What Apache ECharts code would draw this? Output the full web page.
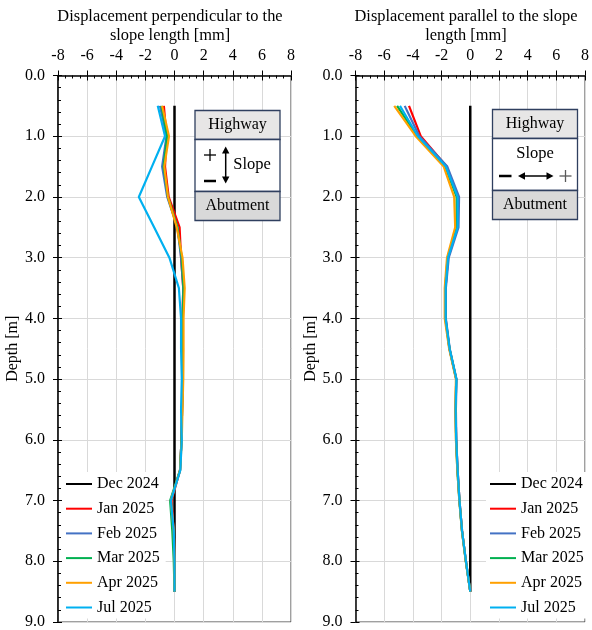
<!DOCTYPE html>
<html>
<head>
<meta charset="utf-8">
<script src="https://cdn.jsdelivr.net/npm/echarts@6/dist/echarts.min.js"></script>
<style>
  html, body { margin: 0; padding: 0; background: #fff; }
  #chart { width: 592px; height: 630px; }
</style>
</head>
<body>
<div id="chart"></div>
<script>
// depth of each reading [m]
var depths = [0.5, 1.0, 1.5, 2.0, 2.5, 3.0, 3.5, 4.0, 4.5, 5.0, 5.5, 6.0, 6.5, 7.0, 7.5, 8.0, 8.5];
var seriesNames = ['Dec 2024', 'Jan 2025', 'Feb 2025', 'Mar 2025', 'Apr 2025', 'Jul 2025'];
var seriesColors = ['#000000', '#ff0000', '#4472c4', '#00b050', '#ffa000', '#00b0f0'];
var xTicks = [-8, -6, -4, -2, 0, 2, 4, 6, 8];
var yTicks = [0, 1, 2, 3, 4, 5, 6, 7, 8, 9];

// displacement perpendicular to the slope length [mm]
var perpDec = [0, 0, 0, 0, 0, 0, 0, 0, 0, 0, 0, 0, 0, 0, 0, 0, 0];
var perpJan = [-0.73, -0.55, -0.65, -0.4, 0.35, 0.45, 0.6, 0.55, 0.55, 0.58, 0.52, 0.48, 0.38, -0.2, -0.05, 0, 0];
var perpFeb = [-1.0, -0.55, -0.85, -0.5, 0.2, 0.45, 0.6, 0.55, 0.55, 0.55, 0.52, 0.48, 0.38, -0.25, -0.08, 0, 0];
var perpMar = [-0.9, -0.5, -0.75, -0.45, 0.2, 0.5, 0.62, 0.57, 0.58, 0.58, 0.52, 0.48, 0.38, -0.3, -0.15, -0.05, 0];
var perpApr = [-0.85, -0.38, -0.7, -0.45, 0.15, 0.55, 0.7, 0.62, 0.62, 0.6, 0.55, 0.5, 0.38, -0.25, -0.05, 0, 0];
var perpJul = [-1.15, -0.65, -1.55, -2.45, -1.4, -0.35, 0.3, 0.45, 0.45, 0.5, 0.45, 0.5, 0.4, -0.25, -0.05, 0, 0];

// displacement parallel to the slope length [mm]
var paraDec = [0, 0, 0, 0, 0, 0, 0, 0, 0, 0, 0, 0, 0, 0, 0, 0, 0];
var paraJan = [-4.27, -3.45, -1.65, -0.85, -0.9, -1.55, -1.72, -1.72, -1.45, -0.98, -1.02, -0.98, -0.88, -0.75, -0.57, -0.3, 0];
var paraFeb = [-4.57, -3.55, -1.6, -0.78, -0.82, -1.5, -1.7, -1.7, -1.43, -0.96, -1.0, -0.97, -0.88, -0.75, -0.57, -0.3, 0];
var paraMar = [-5.1, -3.7, -1.75, -0.95, -0.95, -1.58, -1.75, -1.74, -1.45, -0.98, -1.02, -0.99, -0.9, -0.76, -0.58, -0.31, 0];
var paraApr = [-5.3, -3.8, -1.85, -1.12, -1.05, -1.62, -1.78, -1.78, -1.47, -1.0, -1.04, -1.0, -0.9, -0.76, -0.58, -0.31, 0];
var paraJul = [-4.9, -3.65, -1.7, -0.88, -0.88, -1.55, -1.72, -1.72, -1.44, -0.97, -1.02, -0.98, -0.88, -0.75, -0.57, -0.3, 0];

var perpData = [perpDec, perpJan, perpFeb, perpMar, perpApr, perpJul];
var paraData = [paraDec, paraJan, paraFeb, paraMar, paraApr, paraJul];

var FONT = 'Liberation Serif';
var BORDER = '#2f3f5f';

function pairs(values) {
  return values.map(function (v, i) { return [v, depths[i]]; });
}

function xAxes(grid) {
  var base = {
    gridIndex: grid, type: 'value', position: 'top',
    min: xTicks[0], max: xTicks[xTicks.length - 1], interval: 2
  };
  return [
    Object.assign({}, base, {
      axisLine: { show: true, onZero: false, lineStyle: { color: '#000', width: 1.5 } },
      axisTick: { show: true, length: 5, lineStyle: { color: '#000' } },
      axisLabel: { margin: 12, color: '#000', fontFamily: FONT, fontSize: 16 },
      splitLine: { show: true, lineStyle: { color: '#d9d9d9', width: 1 } }
    }),
    // second copy only for the inner ticks and minor ticks
    Object.assign({}, base, {
      axisLine: { show: false, onZero: false },
      axisTick: { show: true, inside: true, length: 5, lineStyle: { color: '#000' } },
      minorTick: { show: true, splitNumber: 4, length: 3, lineStyle: { color: '#000' } },
      axisLabel: { show: false },
      splitLine: { show: false }
    })
  ];
}

function yAxes(grid) {
  var base = {
    gridIndex: grid, type: 'value', position: 'left', inverse: true,
    min: yTicks[0], max: yTicks[yTicks.length - 1], interval: 1
  };
  return [
    Object.assign({}, base, {
      name: 'Depth [m]', nameLocation: 'middle', nameGap: 36,
      nameTextStyle: { color: '#000', fontFamily: FONT, fontSize: 16 },
      axisLine: { show: true, onZero: false, lineStyle: { color: '#000', width: 1.5 } },
      axisTick: { show: true, length: 5, lineStyle: { color: '#000' } },
      axisLabel: {
        margin: 13, color: '#000', fontFamily: FONT, fontSize: 16,
        formatter: function (v) { return v.toFixed(1); }
      },
      splitLine: { show: true, lineStyle: { color: '#d9d9d9', width: 1 } }
    }),
    Object.assign({}, base, {
      axisLine: { show: false, onZero: false },
      axisTick: { show: true, inside: true, length: 4, lineStyle: { color: '#000' } },
      minorTick: { show: true, splitNumber: 5, length: 3, lineStyle: { color: '#000' } },
      axisLabel: { show: false },
      splitLine: { show: false }
    })
  ];
}

function makeSeries(data, grid) {
  return data.map(function (vals, i) {
    return {
      name: seriesNames[i],
      type: 'line',
      xAxisIndex: grid * 2,
      yAxisIndex: grid * 2,
      data: pairs(vals),
      symbol: 'none',
      color: seriesColors[i],
      lineStyle: { width: i === 0 ? 2.5 : 2.2, color: seriesColors[i] },
      z: 3 + i
    };
  });
}

function legend(left) {
  return {
    orient: 'vertical', left: left, top: 472,
    backgroundColor: '#fff', padding: [4, 6, 3, 4],
    itemWidth: 26, itemHeight: 14, itemGap: 8.7,
    icon: 'path://M0,6 L26,6 L26,8 L0,8 Z',
    textStyle: { color: '#000', fontFamily: FONT, fontSize: 16 },
    data: seriesNames
  };
}

// inset box: Highway / Slope / Abutment
function inset(x0, y0, w, horizontal) {
  var els = [];
  var h1 = 29, h2 = 52, h3 = 29;
  var cx = x0 + w / 2;
  els.push({ type: 'rect', shape: { x: x0, y: y0, width: w, height: h1 }, style: { fill: '#e7e6e6', stroke: BORDER, lineWidth: 1.3 }, z: 20 });
  els.push({ type: 'rect', shape: { x: x0, y: y0 + h1, width: w, height: h2 }, style: { fill: '#fff', stroke: BORDER, lineWidth: 1.3 }, z: 20 });
  els.push({ type: 'rect', shape: { x: x0, y: y0 + h1 + h2, width: w, height: h3 }, style: { fill: '#d9d9d9', stroke: BORDER, lineWidth: 1.3 }, z: 20 });
  var ts = { fill: '#000', font: '16px "' + FONT + '"', align: 'center', verticalAlign: 'middle' };
  var slope = Object.assign({}, ts, { font: '16.5px "' + FONT + '"' });
  els.push({ type: 'text', x: cx, y: y0 + h1 / 2, style: Object.assign({ text: 'Highway' }, ts), z: 21 });
  els.push({ type: 'text', x: cx, y: y0 + h1 + h2 + h3 / 2, style: Object.assign({ text: 'Abutment' }, ts), z: 21 });
  if (!horizontal) {
    var ax = x0 + 30.7;
    els.push({ type: 'text', x: x0 + 57, y: y0 + 54, style: Object.assign({ text: 'Slope' }, slope), z: 21 });
    // plus / minus
    els.push({ type: 'line', shape: { x1: x0 + 9, y1: y0 + 44.5, x2: x0 + 21, y2: y0 + 44.5 }, style: { stroke: '#000', lineWidth: 1.3 }, z: 21 });
    els.push({ type: 'line', shape: { x1: x0 + 15, y1: y0 + 38.5, x2: x0 + 15, y2: y0 + 50.5 }, style: { stroke: '#000', lineWidth: 1.3 }, z: 21 });
    els.push({ type: 'line', shape: { x1: x0 + 9, y1: y0 + 70.5, x2: x0 + 21, y2: y0 + 70.5 }, style: { stroke: '#000', lineWidth: 2.5 }, z: 21 });
    // double arrow
    els.push({ type: 'line', shape: { x1: ax, y1: y0 + 41, x2: ax, y2: y0 + 68 }, style: { stroke: '#000', lineWidth: 1.5 }, z: 21 });
    els.push({ type: 'polygon', shape: { points: [[ax, y0 + 36], [ax - 3.7, y0 + 43], [ax + 3.7, y0 + 43]] }, style: { fill: '#000' }, z: 21 });
    els.push({ type: 'polygon', shape: { points: [[ax, y0 + 73], [ax - 3.7, y0 + 66], [ax + 3.7, y0 + 66]] }, style: { fill: '#000' }, z: 21 });
  } else {
    var ay = y0 + 66.5;
    els.push({ type: 'text', x: cx, y: y0 + 44, style: Object.assign({ text: 'Slope' }, slope), z: 21 });
    els.push({ type: 'line', shape: { x1: x0 + 6.5, y1: ay, x2: x0 + 19, y2: ay }, style: { stroke: '#000', lineWidth: 2.5 }, z: 21 });
    els.push({ type: 'line', shape: { x1: x0 + 31, y1: ay, x2: x0 + 56, y2: ay }, style: { stroke: '#000', lineWidth: 1.5 }, z: 21 });
    els.push({ type: 'polygon', shape: { points: [[x0 + 25.5, ay], [x0 + 32.5, ay - 3.7], [x0 + 32.5, ay + 3.7]] }, style: { fill: '#000' }, z: 21 });
    els.push({ type: 'polygon', shape: { points: [[x0 + 61, ay], [x0 + 54, ay - 3.7], [x0 + 54, ay + 3.7]] }, style: { fill: '#000' }, z: 21 });
    els.push({ type: 'line', shape: { x1: x0 + 67, y1: ay, x2: x0 + 79, y2: ay }, style: { stroke: '#595959', lineWidth: 1.3 }, z: 21 });
    els.push({ type: 'line', shape: { x1: x0 + 73, y1: ay - 6, x2: x0 + 73, y2: ay + 6 }, style: { stroke: '#595959', lineWidth: 1.3 }, z: 21 });
  }
  return els;
}

var chart = echarts.init(document.getElementById('chart'));
var titleStyle = { color: '#000', fontFamily: FONT, fontSize: 16.4, fontWeight: 'normal', lineHeight: 19 };

chart.setOption({
  animation: false,
  backgroundColor: '#fff',
  title: [
    { text: 'Displacement perpendicular to the\nslope length [mm]', left: 170, top: 7, textAlign: 'center', padding: 0, textStyle: titleStyle },
    { text: 'Displacement parallel to the slope\nlength [mm]', left: 466, top: 7, textAlign: 'center', padding: 0, textStyle: titleStyle }
  ],
  grid: [
    { left: 58, top: 75.5, width: 233, height: 549, show: true, borderColor: '#404040', borderWidth: 1 },
    { left: 355.5, top: 75.5, width: 233, height: 549, show: true, borderColor: '#404040', borderWidth: 1 }
  ],
  xAxis: xAxes(0).concat(xAxes(1)),
  yAxis: yAxes(0).concat(yAxes(1)),
  legend: [legend(62), legend(486)],
  series: makeSeries(perpData, 0).concat(makeSeries(paraData, 1)),
  graphic: inset(195, 110.5, 85, false).concat(inset(492.5, 109.5, 85, true))
});
</script>
</body>
</html>
